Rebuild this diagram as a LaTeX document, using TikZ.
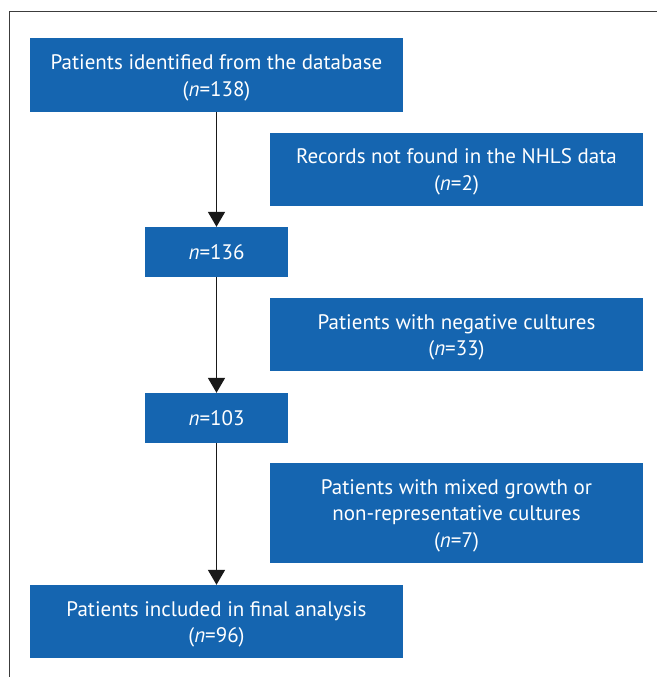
\documentclass[tikz,border=0pt]{standalone}
\usepackage{fontspec}
\setmainfont{PT Sans}
\usetikzlibrary{arrows.meta}
\definecolor{boxblue}{RGB}{21,101,176}
\definecolor{framegray}{RGB}{60,60,60}

% lines of a box, set a little low as in the original
\newcommand{\flowtext}[1]{\raisebox{-2.5pt}[\height][\depth]{%
  \begin{tabular}{@{}c@{}}#1\end{tabular}}}

\tikzset{
  flowbox/.style={rectangle, fill=boxblue, text=white,
    inner sep=0pt, font=\fontsize{21}{26.5}\selectfont},
  widebox/.style={flowbox, minimum width=373pt, minimum height=73pt},
  countbox/.style={flowbox, minimum width=143pt, minimum height=50pt},
  flowarrow/.style={draw=black!90, line width=1.8pt,
    -{Triangle[width=17pt,length=15pt]}}
}

\begin{document}
\begin{tikzpicture}[x=1pt,y=-1pt]
\useasboundingbox (0,0) rectangle (657,677);
% the frame
\draw[framegray, line width=1.4pt] (9.5,677) -- (9.5,11.5) -- (657,11.5);
% main column
\node[widebox] (identified) at (216.5,75) {\flowtext{Patients identified from the database\\(\textit{n}=138)}};
\node[countbox] (n136) at (216.5,252) {\textit{n}=136};
\node[countbox] (n103) at (216.5,418) {\textit{n}=103};
\node[widebox] (included) at (216.5,621.5) {\flowtext{Patients included in final analysis\\(\textit{n}=96)}};
% exclusions
\node[widebox] (notfound) at (456.5,169) {\flowtext{Records not found in the NHLS data\\(\textit{n}=2)}};
\node[widebox] (negative) at (456.5,334.5) {\flowtext{Patients with negative cultures\\(\textit{n}=33)}};
\node[widebox, minimum height=100pt] (mixed) at (456.5,513) {\flowtext{Patients with mixed growth or\\non-representative cultures\\(\textit{n}=7)}};
% arrows
\draw[flowarrow] (identified) -- (n136);
\draw[flowarrow] (n136) -- (n103);
\draw[flowarrow] (n103) -- (included);
\end{tikzpicture}
\end{document}
